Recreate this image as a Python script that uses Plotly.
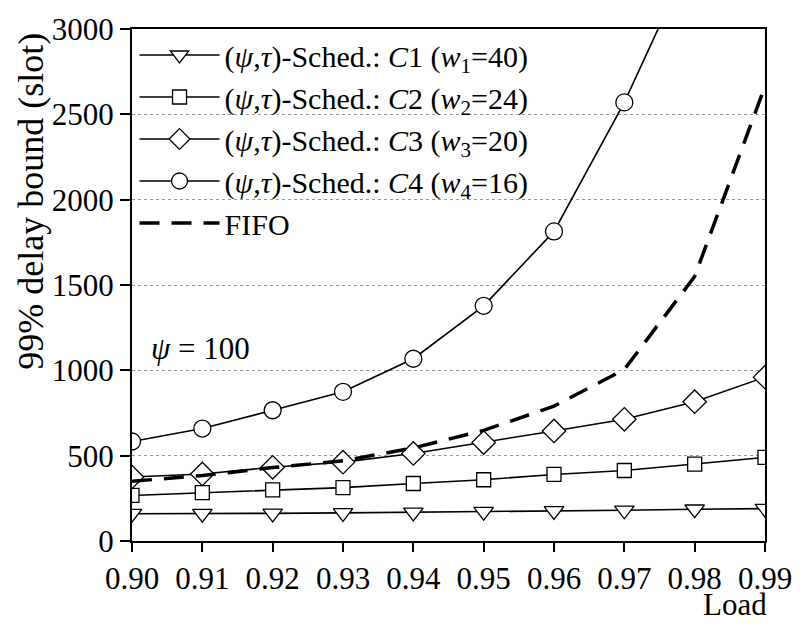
import plotly.graph_objects as go

load = [0.90, 0.91, 0.92, 0.93, 0.94, 0.95, 0.96, 0.97, 0.98, 0.99]
c1 = [160, 160, 162, 165, 168, 172, 176, 180, 186, 190]
c2 = [267, 283, 300, 313, 337, 359, 390, 413, 451, 490]
c3 = [375, 393, 432, 462, 513, 577, 645, 713, 816, 960]
c4 = [583, 659, 766, 874, 1068, 1378, 1814, 2570, 3466, 4800]
fifo = [350, 384, 430, 470, 545, 648, 790, 1005, 1550, 2665]
yticks = [0, 500, 1000, 1500, 2000, 2500, 3000]

names = [
    "(<i>ψ</i>,<i>τ</i>)-Sched.: <i>C</i>1 (<i>w</i><sub>1</sub>=40)",
    "(<i>ψ</i>,<i>τ</i>)-Sched.: <i>C</i>2 (<i>w</i><sub>2</sub>=24)",
    "(<i>ψ</i>,<i>τ</i>)-Sched.: <i>C</i>3 (<i>w</i><sub>3</sub>=20)",
    "(<i>ψ</i>,<i>τ</i>)-Sched.: <i>C</i>4 (<i>w</i><sub>4</sub>=16)",
    "FIFO",
]
symbols = ["triangle-down", "square", "diamond", "circle"]
sizes = [17, 14, 18, 17]
series = [c1, c2, c3, c4]

FONT = "Liberation Serif, Times New Roman, serif"

fig = go.Figure()
for s, nm, sym, sz in zip(series, names, symbols, sizes):
    fig.add_trace(go.Scatter(
        x=load, y=s, mode="lines+markers", name=nm,
        line=dict(color="black", width=1.6),
        marker=dict(symbol=sym, size=sz, color="white",
                    line=dict(color="black", width=1.3)),
    ))
fig.add_trace(go.Scatter(
    x=load, y=fifo, mode="lines", name=names[4],
    line=dict(color="black", width=3.5, dash="20px,12px"),
))

# psi annotation
fig.add_annotation(x=0.9024, y=1128, xref="x", yref="y", text="<i>ψ</i> = 100",
                   showarrow=False, xanchor="left", yanchor="middle",
                   font=dict(family=FONT, size=31, color="black"))
# x-axis label at bottom right
fig.add_annotation(x=1.006, y=-0.1625, xref="paper", yref="paper", text="Load",
                   showarrow=False, xanchor="right", yanchor="bottom",
                   font=dict(family=FONT, size=31, color="black"))
# y-axis label
fig.add_annotation(x=-0.161, y=0.663, xref="paper", yref="paper",
                   text="99% delay bound (slot)", textangle=-90,
                   showarrow=False, xanchor="center", yanchor="middle",
                   font=dict(family=FONT, size=36, color="black"))

fig.update_layout(
    width=804, height=626,
    margin=dict(l=132, r=32, t=25, b=85),
    paper_bgcolor="white", plot_bgcolor="white",
    font=dict(family=FONT, size=31, color="black"),
    showlegend=True,
    legend=dict(x=0.004, y=1.0, xanchor="left", yanchor="top",
                bgcolor="rgba(0,0,0,0)", font=dict(family=FONT, size=30),
                tracegroupgap=0, itemwidth=80),
    xaxis=dict(range=[0.90, 0.99], tickvals=load,
               ticktext=[f"{v:.2f}" for v in load],
               showline=True, linecolor="black", linewidth=2, mirror=True,
               ticks="outside", ticklen=9, tickwidth=2, tickcolor="black",
               showgrid=False, zeroline=False,
               tickfont=dict(family=FONT, size=31)),
    yaxis=dict(range=[0, 3000], tickvals=yticks,
               showline=True, linecolor="black", linewidth=2, mirror=True,
               ticks="outside", ticklen=10, tickwidth=2, tickcolor="black",
               showgrid=True, gridcolor="#999999", gridwidth=1, griddash="dot",
               zeroline=False,
               tickfont=dict(family=FONT, size=31)),
)

fig.write_html("out.html")
